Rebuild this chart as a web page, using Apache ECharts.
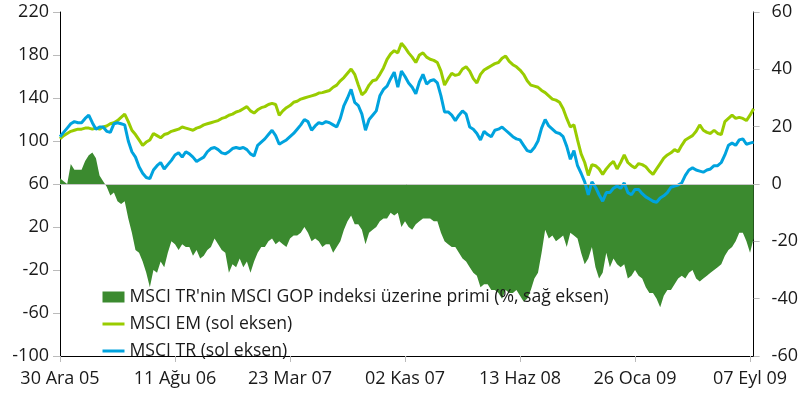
<!DOCTYPE html>
<html>
<head>
<meta charset="utf-8">
<script src="https://cdn.jsdelivr.net/npm/echarts@6/dist/echarts.min.js"></script>
<style>
  html, body { margin: 0; padding: 0; background: #fff; }
  #chart { width: 801px; height: 401px; }
</style>
</head>
<body>
<div id="chart"></div>
<script>
// weekly points, first one 30 Ara 05; a label every 32 weeks
const tickLabels = ['30 Ara 05', '11 Ağu 06', '23 Mar 07', '02 Kas 07', '13 Haz 08', '26 Oca 09', '07 Eyl 09']
const labelStep = 32

const seriesNames = [
  "MSCI TR'nin MSCI GOP indeksi üzerine primi (%, sağ eksen)",
  'MSCI EM (sol eksen)',
  'MSCI TR (sol eksen)'
]

// MSCI EM, left axis
const msciEm = [
  102, 105, 107, 109, 110, 111, 111, 112, 112, 111,
  112, 111, 113, 114, 116, 117, 119, 122, 125, 118,
  110, 106, 101, 96, 99, 101, 107, 105, 103, 106,
  107, 109, 110, 111, 113, 112, 111, 110, 112, 113,
  115, 116, 117, 118, 119, 121, 122, 124, 125, 127,
  128, 130, 132, 128, 126, 129, 131, 132, 134, 135,
  134, 124, 128, 131, 133, 136, 137, 139, 140, 141,
  142, 143, 144.6, 145, 146, 147, 150, 152, 156, 159,
  163, 167, 162, 152, 143, 146, 152, 156, 157, 162,
  168, 176, 181, 184, 182, 191, 187, 182, 178, 173,
  180, 182, 178, 176, 175, 173, 165, 152, 158, 163,
  161, 162, 167, 169, 165, 158, 154, 162, 166, 168,
  170, 172, 173, 177, 179, 174, 171, 169, 166, 162,
  156, 152, 151, 150, 147, 145, 142, 139, 138, 136,
  130, 121, 113, 115, 101, 88, 80, 68, 78, 77,
  74, 69, 74, 78, 81, 74, 80, 87, 80, 77,
  75, 79, 78, 76, 72, 69, 74, 79, 84, 87,
  89, 92, 90, 96, 101, 103, 105, 109, 115, 110,
  108, 107, 110, 107, 106, 118, 121, 124, 121, 122,
  121, 119, 124, 130
]

// MSCI TR, left axis
const msciTr = [
  104, 108, 112, 116, 118, 117, 117, 121, 124, 117,
  111, 113, 113, 109, 108, 116, 117, 116, 115, 100,
  90, 85, 76, 70, 66, 65, 73, 77, 80, 74,
  78, 82, 87, 89, 85, 90, 88, 85, 81, 83,
  85, 90, 93, 94, 92, 89, 88, 90, 93, 94,
  93, 94, 92, 88, 86, 96, 99, 102, 106, 110,
  105, 97, 99, 101, 104, 107, 111, 115, 120, 118,
  110, 114, 117, 116, 118, 117, 115, 113, 121, 133,
  140, 148, 136, 133, 125, 110, 120, 124, 128, 142,
  148, 151, 158, 164, 150, 165, 160, 154, 150, 144,
  155, 162, 153, 156, 157, 154, 142, 127, 127, 124,
  119, 124, 128, 125, 113, 111, 107, 101, 109, 106,
  104, 110, 111, 113, 110, 107, 104, 102, 101, 96,
  91, 90, 94, 100, 112, 120, 114, 111, 108, 107,
  104, 95, 83, 91, 77, 70, 62, 50, 62, 57,
  50, 44, 52, 52, 56, 58, 56, 61, 52, 50,
  55, 55, 51, 48, 46, 44, 43, 47, 49, 52,
  57, 58, 59, 61, 68, 73, 75, 73, 72, 71,
  73, 74, 77, 77, 80, 87, 96, 98, 96, 101,
  102, 97, 98, 99
]

// premium in %, right axis
const premium = [
  2, 1, 0, 7, 5, 5, 5, 8, 10, 11,
  9, 3, 1, -1, -4, -3, -6, -7, -6, -12,
  -17, -23, -24, -27, -31, -36, -30, -31, -27, -29,
  -24, -20, -21, -23, -21, -22, -22, -25, -23, -26,
  -25, -23, -22, -19, -21, -23, -24, -31, -28, -29,
  -26, -29, -27, -31, -27, -24, -22, -22, -20, -19,
  -21, -20, -21, -22, -19, -18, -18, -17, -15, -17,
  -20, -19, -20, -22, -21, -21, -24, -22, -20, -16,
  -13, -11, -14, -14, -16, -21, -17, -16, -15, -13,
  -12, -12, -10, -11, -10, -15, -13, -15, -16, -14,
  -13, -12, -12, -12, -13, -13, -17, -20, -21, -22,
  -22, -24, -26, -27, -29, -31, -32, -36, -35, -35,
  -37, -37, -38, -40, -37, -38, -38, -37, -39, -41,
  -40, -37, -33, -31, -24, -16, -19, -18, -20, -19,
  -18, -22, -17, -18, -19, -24, -28, -26, -22, -29,
  -33, -31, -24, -29, -26, -28, -29, -28, -33, -32,
  -30, -32, -33, -36, -38, -38, -40, -43, -39, -37,
  -37, -35, -33, -32, -33, -31, -30, -33, -34, -33,
  -32, -31, -30, -29, -28, -25, -23, -22, -20, -17,
  -17, -20, -24, -19
]

const weeks = msciEm.map((v, i) => i)

const textColor = '#1a1a1a'
const fontFamily = '"Open Sans", sans-serif'
const colors = ['#3b8a2f', '#99cc00', '#00a3de']

const chart = echarts.init(document.getElementById('chart'))

const option = {
  animation: false,
  textStyle: { fontFamily: fontFamily },
  grid: { left: 60, right: 43.5, top: 12, bottom: 45 },
  legend: {
    orient: 'vertical',
    left: 96,
    top: 283,
    itemWidth: 22,
    itemHeight: 11,
    itemGap: 9,
    textStyle: { color: textColor, fontSize: 17.6, fontFamily: fontFamily },
    data: [
      { name: seriesNames[0], icon: 'rect' },
      { name: seriesNames[1], itemStyle: { opacity: 0 }, lineStyle: { width: 3 } },
      { name: seriesNames[2], itemStyle: { opacity: 0 }, lineStyle: { width: 3 } }
    ]
  },
  xAxis: {
    type: 'category',
    data: weeks,
    boundaryGap: false,
    axisLine: { onZero: false, lineStyle: { color: '#000', width: 1 } },
    axisTick: { interval: labelStep - 1, length: 6, lineStyle: { color: '#bbb' } },
    axisLabel: {
      interval: labelStep - 1,
      margin: 14,
      color: textColor,
      fontSize: 18,
      formatter(value, index) {
        return index % labelStep === 0 ? tickLabels[index / labelStep] : ''
      }
    },
    splitLine: { show: false }
  },
  yAxis: [
    {
      type: 'value',
      min: -100,
      max: 220,
      interval: 40,
      axisLine: { show: true, onZero: false, lineStyle: { color: '#000', width: 1 } },
      axisTick: { show: true, length: 7, lineStyle: { color: '#bbb' } },
      axisLabel: { margin: 11, color: textColor, fontSize: 18 },
      splitLine: { show: false }
    },
    {
      type: 'value',
      min: -60,
      max: 60,
      interval: 20,
      position: 'right',
      axisLine: { show: true, onZero: false, lineStyle: { color: '#000', width: 1 } },
      axisTick: { show: true, length: 6, lineStyle: { color: '#bbb' } },
      axisLabel: { margin: 18, color: textColor, fontSize: 18 },
      splitLine: { show: false }
    }
  ],
  series: [
    {
      name: seriesNames[0],
      type: 'line',
      yAxisIndex: 1,
      data: premium,
      symbol: 'none',
      itemStyle: { color: colors[0] },
      lineStyle: { width: 0 },
      areaStyle: { color: colors[0], opacity: 1 },
      markLine: {
        silent: true,
        symbol: 'none',
        label: { show: false },
        lineStyle: { color: '#c8c8c8', width: 1, type: 'solid' },
        data: [{ yAxis: 0 }]
      }
    },
    {
      name: seriesNames[1],
      type: 'line',
      data: msciEm,
      symbol: 'none',
      itemStyle: { color: colors[1] },
      lineStyle: { color: colors[1], width: 3 }
    },
    {
      name: seriesNames[2],
      type: 'line',
      data: msciTr,
      symbol: 'none',
      itemStyle: { color: colors[2] },
      lineStyle: { color: colors[2], width: 3 }
    }
  ]
}

chart.setOption(option)
</script>
</body>
</html>
